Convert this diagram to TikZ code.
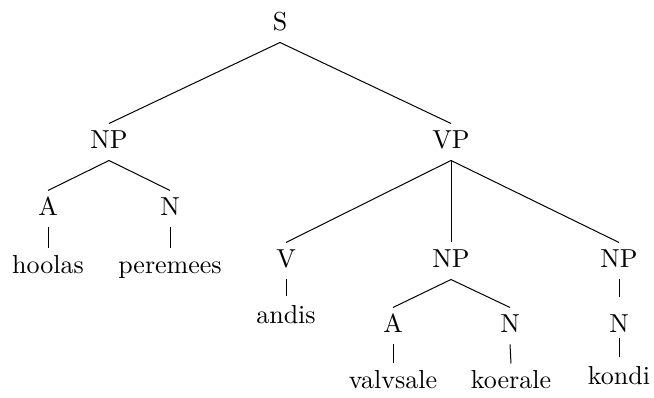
\documentclass[tikz,border=0pt]{standalone}
\begin{document}
\begin{tikzpicture}[x=1pt,y=-1pt,
  lbl/.style={anchor=base,scale=2.6,inner sep=0pt,text height=9.23pt,text depth=4.6pt},
  branch/.style={line width=1pt}]
\useasboundingbox (0,0) rectangle (654,397);
% phrase-level labels
\node[lbl] (s)   at (280,30)  {S};
\node[lbl] (np1) at (109,148) {NP};
\node[lbl] (vp)  at (451,148) {VP};
\node[lbl] (a1)  at (48,215)  {A};
\node[lbl] (n1)  at (170,215) {N};
\node[lbl] (v)   at (286,267) {V};
\node[lbl] (np2) at (451,267) {NP};
\node[lbl] (np3) at (619,267) {NP};
\node[lbl] (a2)  at (393,332) {A};
\node[lbl] (n2)  at (510,332) {N};
\node[lbl] (n3)  at (619,332) {N};
% words
\node[lbl] (w1) at (48,273)  {hoolas};
\node[lbl] (w2) at (170,273) {peremees};
\node[lbl] (w3) at (286,323) {andis};
\node[lbl] (w4) at (393,388) {valvsale};
\node[lbl] (w5) at (511,388) {koerale};
\node[lbl] (w6) at (619,384) {kondi};
% branches
\draw[branch] (s.south) -- (np1.north);
\draw[branch] (s.south) -- (vp.north);
\draw[branch] (np1.south) -- (a1.north);
\draw[branch] (np1.south) -- (n1.north);
\draw[branch] (a1.south) -- (w1.north);
\draw[branch] (n1.south) -- (w2.north);
\draw[branch] (vp.south) -- (v.north);
\draw[branch] (vp.south) -- (np2.north);
\draw[branch] (vp.south) -- (np3.north);
\draw[branch, shorten >=2pt] (v.south) -- (w3.north);
\draw[branch] (np2.south) -- (a2.north);
\draw[branch] (np2.south) -- (n2.north);
\draw[branch, shorten >=10pt] (np3.south) -- (n3.north);
\draw[branch] (a2.south) -- (w4.north);
\draw[branch] (n2.south) -- (w5.north);
\draw[branch, shorten <=-6pt, shorten >=2pt] (n3.south) -- (w6.north);
\end{tikzpicture}
\end{document}
